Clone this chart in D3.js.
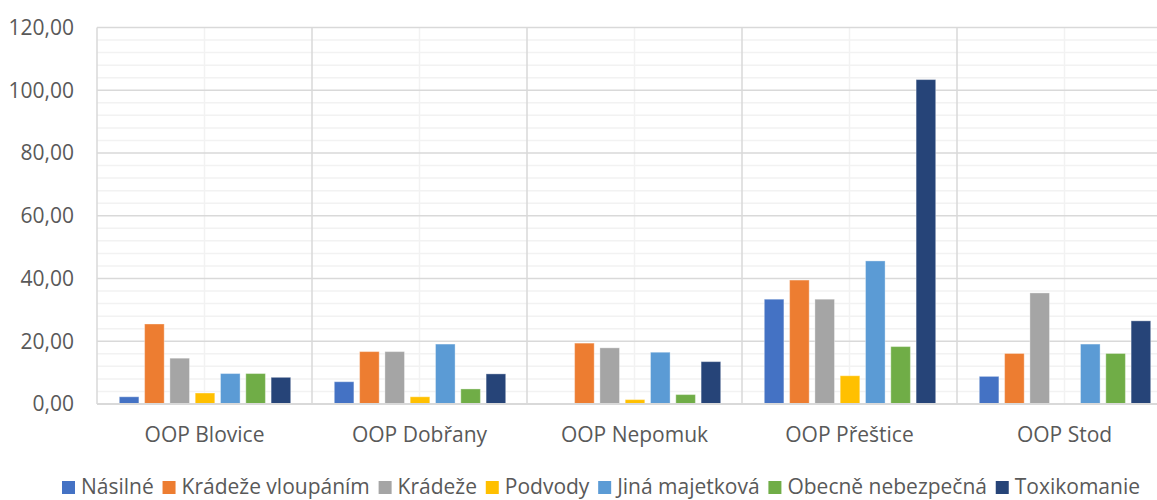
<!DOCTYPE html>
<html><head><meta charset="utf-8">
<script src="https://cdn.jsdelivr.net/npm/d3@7"></script>
<style>body{margin:0;background:#fff}svg{display:block}text{font-family:"Open Sans",sans-serif;fill:#595959}</style>
</head><body><svg id="c" width="1157" height="500"></svg>
<script>
const categories = ["OOP Blovice","OOP Dobřany","OOP Nepomuk","OOP Přeštice","OOP Stod"];
const seriesNames = ["Násilné","Krádeže vloupáním","Krádeže","Podvody","Jiná majetková","Obecně nebezpečná","Toxikomanie"];
const nasilne = [2.3, 7.1, 0, 33.4, 8.8];
const kradezeVloupanim = [25.5, 16.7, 19.4, 39.5, 16.1];
const kradeze = [14.6, 16.7, 17.9, 33.4, 35.4];
const podvody = [3.5, 2.3, 1.4, 9.0, 0];
const jinaMajetkova = [9.7, 19.1, 16.5, 45.6, 19.1];
const obecneNebezpecna = [9.7, 4.8, 3.0, 18.3, 16.1];
const toxikomanie = [8.5, 9.6, 13.5, 103.4, 26.5];
const yTicks = [0,20,40,60,80,100,120];
const colors = ["#4472C4","#ED7D31","#A5A5A5","#FFC000","#5B9BD5","#70AD47","#264478"];

const seriesValues = [nasilne,kradezeVloupanim,kradeze,podvody,jinaMajetkova,obecneNebezpecna,toxikomanie];
const svg = d3.select("#c");
const pLeft = 97, pRight = 1172, pTop = 27.5, pBottom = 404;
const x0 = d3.scaleBand().domain(categories).range([pLeft,pRight]).padding(0);
const x1 = d3.scaleBand().domain(seriesNames).range([22.3, x0.bandwidth()-21.3]).paddingInner(0.226).paddingOuter(0);
const y = d3.scaleLinear().domain([0,120]).range([pBottom,pTop]);

// minor horizontal grid
const minor = d3.range(0,121,4).filter(v=>v%20!==0);
svg.append("g").selectAll("line").data(minor).join("line")
  .attr("x1",pLeft).attr("x2",pRight).attr("y1",d=>y(d)).attr("y2",d=>y(d))
  .attr("stroke","#f2f2f2").attr("stroke-width",1.5);
// minor vertical grid (category centers)
svg.append("g").selectAll("line").data(categories).join("line")
  .attr("x1",d=>x0(d)+x0.bandwidth()/2).attr("x2",d=>x0(d)+x0.bandwidth()/2)
  .attr("y1",pTop).attr("y2",pBottom).attr("stroke","#f2f2f2").attr("stroke-width",1.5);
// major horizontal grid
svg.append("g").selectAll("line").data(yTicks).join("line")
  .attr("x1",pLeft).attr("x2",pRight).attr("y1",d=>y(d)).attr("y2",d=>y(d))
  .attr("stroke","#d9d9d9").attr("stroke-width",1.3);
// major vertical grid (category boundaries)
svg.append("g").selectAll("line").data(categories.concat(["__end"])).join("line")
  .attr("x1",(d,i)=>i<categories.length?x0(d):pRight).attr("x2",(d,i)=>i<categories.length?x0(d):pRight)
  .attr("y1",pTop).attr("y2",pBottom).attr("stroke","#d9d9d9").attr("stroke-width",1.5);

// bars
const g = svg.append("g");
categories.forEach((c,ci)=>{
  seriesNames.forEach((s,si)=>{
    const v = seriesValues[si][ci];
    if(v<=0) return;
    g.append("rect").attr("x",x0(c)+x1(s)).attr("width",x1.bandwidth())
      .attr("y",y(v)).attr("height",y(0)-y(v)).attr("fill",colors[si])
      .attr("stroke","#fff").attr("stroke-opacity",0.35).attr("stroke-width",1);
  });
});
// axis line
svg.append("line").attr("x1",pLeft).attr("x2",pRight).attr("y1",pBottom).attr("y2",pBottom).attr("stroke","#d9d9d9").attr("stroke-width",2);

// y tick labels
svg.append("g").selectAll("text").data(yTicks).join("text")
  .attr("x",74).attr("y",d=>y(d)).attr("dy","0.35em").attr("text-anchor","end")
  .style("font-size","21px").text(d=>d3.format(".2f")(d).replace(".",","));
// category labels
svg.append("g").selectAll("text").data(categories).join("text")
  .attr("x",d=>x0(d)+x0.bandwidth()/2).attr("y",435).attr("dy","0.35em").attr("text-anchor","middle")
  .style("font-size","21px").text(d=>d);

// legend
const lg = svg.append("g");
const items = seriesNames.map((s,i)=>{
  const t = lg.append("text").attr("y",486.5).attr("dy","0.35em").style("font-size","21px").text(s);
  return {t, w:t.node().getComputedTextLength(), i};
});
const sq = 13, gapSq = 6, legStart = 62, legEnd = 1140;
const textSum = d3.sum(items,d=>sq+gapSq+d.w);
const gapItem = Math.max(4, (legEnd-legStart-textSum)/(items.length-1));
let cx = legStart;
items.forEach(d=>{
  lg.append("rect").attr("x",cx).attr("y",481).attr("width",sq).attr("height",sq).attr("fill",colors[d.i]);
  d.t.attr("x",cx+sq+gapSq);
  cx += sq+gapSq+d.w+gapItem;
});
</script></body></html>
